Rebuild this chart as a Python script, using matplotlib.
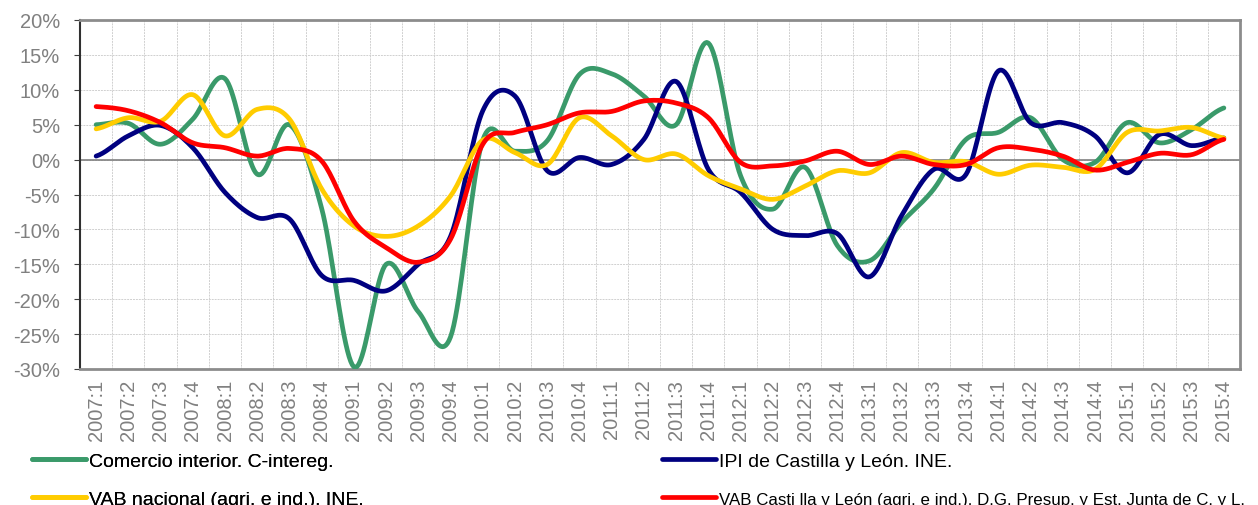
import numpy as np
import matplotlib
matplotlib.use('Agg')
import matplotlib.pyplot as plt
from matplotlib.ticker import FuncFormatter, MultipleLocator

# periodos trimestrales
trimestres = [f'{a}:{t}' for a in range(2007, 2016) for t in range(1, 5)]

comercio = [5.0, 5.2, 2.2, 5.8, 11.6, -2.1, 5.0, -7.0, -29.7, -15.0, -21.8, -25.4,
            2.8, 1.2, 2.7, 12.2, 12.3, 9.1, 5.0, 16.7, -2.3, -7.1, -1.1, -12.3,
            -14.5, -9.0, -4.2, 2.9, 3.9, 6.0, 0.0, -0.4, 5.3, 2.4, 4.3, 7.4]
ipi = [0.5, 3.4, 4.9, 1.7, -4.7, -8.3, -8.5, -16.6, -17.3, -18.8, -15.0, -11.0,
       7.0, 9.1, -1.6, 0.3, -0.7, 2.9, 11.2, -1.4, -4.7, -10.0, -10.9, -10.6,
       -16.8, -8.0, -1.4, -2.1, 12.7, 5.3, 5.3, 3.4, -1.9, 3.6, 2.0, 3.1]
vab_nac = [4.4, 6.0, 5.5, 9.3, 3.4, 7.2, 5.8, -4.2, -9.5, -11.0, -9.5, -5.2,
           2.8, 1.0, -0.7, 6.0, 3.4, 0.0, 0.8, -2.3, -4.2, -5.7, -3.8, -1.6,
           -1.9, 1.0, -0.4, -0.3, -2.1, -0.8, -1.1, -1.4, 3.9, 4.1, 4.6, 3.1]
vab_cyl = [7.6, 7.0, 5.3, 2.4, 1.7, 0.5, 1.6, -0.2, -8.8, -12.6, -14.7, -11.4,
           2.2, 3.9, 5.0, 6.7, 6.9, 8.4, 8.1, 6.0, -0.4, -0.9, -0.2, 1.2,
           -0.7, 0.5, -0.7, -0.7, 1.7, 1.5, 0.5, -1.5, -0.4, 0.9, 0.7, 2.9]

series = [
    (comercio, '#3a9a6a', 'Comercio interior. C-intereg.'),
    (ipi, '#000080', 'IPI de Castilla y León. INE.'),
    (vab_nac, '#ffcc00', 'VAB nacional (agri. e ind.). INE.'),
    (vab_cyl, '#ff0000', 'VAB Casti lla y León (agri. e ind.). D.G. Presup. y Est. Junta de C. y L.'),
]


def suavizar(y, n=20):
    # curva suave tipo Excel (Catmull-Rom)
    y = np.asarray(y, dtype=float)
    p = np.concatenate([[y[0]], y, [y[-1]]])
    xs, ys = [], []
    t = np.linspace(0, 1, n, endpoint=False)
    for i in range(len(y) - 1):
        p0, p1, p2, p3 = p[i], p[i + 1], p[i + 2], p[i + 3]
        c1 = p1 + (p2 - p0) / 6
        c2 = p2 - (p3 - p1) / 6
        b = (1 - t) ** 3 * p1 + 3 * (1 - t) ** 2 * t * c1 + 3 * (1 - t) * t ** 2 * c2 + t ** 3 * p2
        xs.extend(i + t)
        ys.extend(b)
    xs.append(len(y) - 1)
    ys.append(y[-1])
    return np.array(xs), np.array(ys)


plt.rcParams['font.family'] = ['Liberation Sans', 'DejaVu Sans']
fig = plt.figure(figsize=(12.58, 5.06), dpi=100)
ax = fig.add_axes([80 / 1258, 1 - 370 / 506, 1160 / 1258, 349 / 506])

lineas = []
for datos, color, nombre in series:
    xs, ys = suavizar(datos)
    l, = ax.plot(xs, ys, color=color, lw=3.4, solid_capstyle='round', label=nombre, zorder=3)
    lineas.append(l)

ax.set_xlim(-0.5, len(trimestres) - 0.5)
ax.set_ylim(-30, 20)
ax.yaxis.set_major_locator(MultipleLocator(5))
ax.yaxis.set_major_formatter(FuncFormatter(lambda v, p: f'{v:.0f}%'))
ax.set_xticks(range(len(trimestres)))
ax.set_xticklabels(trimestres, rotation=90)
ax.set_xticks(np.arange(0.5, len(trimestres) - 1, 1), minor=True)
ax.tick_params(axis='x', which='major', length=0, labelsize=14.5, labelcolor='#808080', pad=7)
ax.tick_params(axis='x', which='minor', length=0)
ax.tick_params(axis='y', labelsize=14.5, labelcolor='#808080', length=4.3, color='#404040', pad=10)
ax.grid(True, which='minor', axis='x', color='#d0d0d0', ls=(0, (2, 1)), lw=0.7)
ax.grid(True, which='major', axis='y', color='#d0d0d0', ls=(0, (2, 1)), lw=0.7)
ax.axhline(0, color='#808080', lw=1.2, zorder=2)
for lado in ['top', 'right', 'bottom']:
    ax.spines[lado].set_color('#8c8c8c')
    ax.spines[lado].set_linewidth(2)
ax.spines['left'].set_color('#303030')
ax.spines['left'].set_linewidth(1.5)

opciones = dict(loc='upper left', frameon=False, fontsize=14, handlelength=2.8,
                handletextpad=0.15, labelspacing=1.05, borderpad=0, borderaxespad=0)
leg1 = fig.legend([lineas[0], lineas[2]], [series[0][2], series[2][2]],
                  bbox_to_anchor=(32 / 1258, 1 - 453 / 506), **opciones)
leg2 = fig.legend([lineas[1], lineas[3]], [series[1][2], series[3][2]],
                  bbox_to_anchor=(662 / 1258, 1 - 453 / 506), **opciones)
leg2.get_texts()[1].set_fontsize(12.2)
fig.add_artist(leg1)

fig.savefig('out.png', dpi=100)
